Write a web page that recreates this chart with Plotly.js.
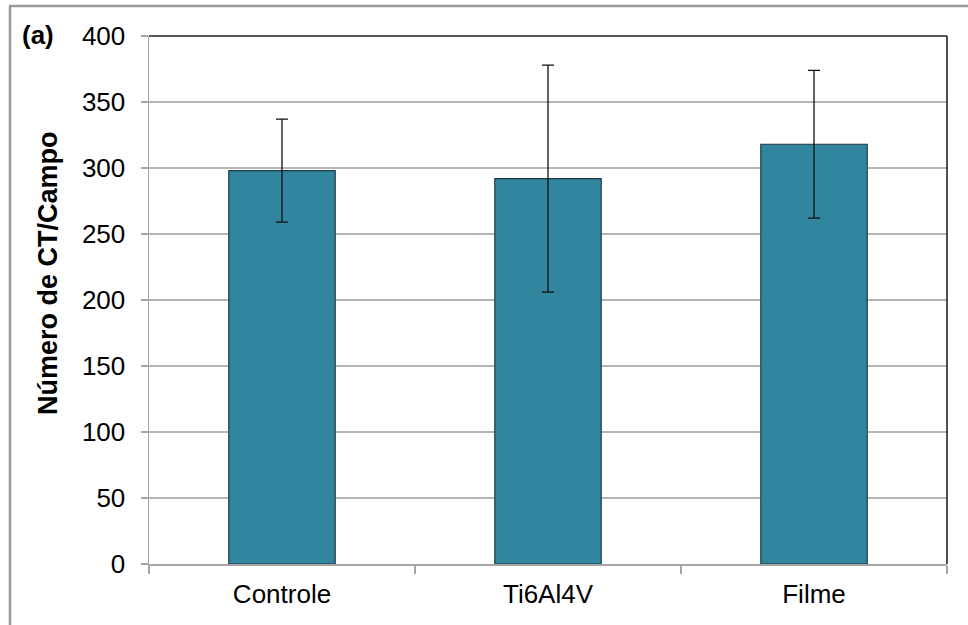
<!DOCTYPE html>
<html>
<head>
<meta charset="utf-8">
<script src="https://cdn.plot.ly/plotly-3.0.1.min.js"></script>
<style>
  html, body { margin: 0; padding: 0; background: #fff; }
  #chart { width: 968px; height: 625px; }
</style>
</head>
<body>
<div id="chart"></div>
<script>
const categories = ['Controle', 'Ti6Al4V', 'Filme'];
const values = [298, 292, 318];
const errors = [39, 86, 56];
const yTicks = [0, 50, 100, 150, 200, 250, 300, 350, 400];
const yTitle = 'Número de CT/Campo';
const panelLabel = '(a)';

const W = 968, H = 625;
const M = { l: 149, r: 21, t: 36, b: 61 };
const pw = W - M.l - M.r, ph = H - M.t - M.b;
const px = x => (x - M.l) / pw;
const py = y => (H - M.b - y) / ph;

const font = 'Liberation Sans, Arial, sans-serif';

const trace = {
  type: 'bar',
  x: categories,
  y: values,
  marker: { color: '#31859c', line: { color: '#1e3b45', width: 1.2 } },
  error_y: { type: 'data', array: errors, visible: true, color: '#111', thickness: 1.3, width: 6 },
  hoverinfo: 'skip'
};

const layout = {
  width: W, height: H,
  margin: M,
  paper_bgcolor: '#fff',
  plot_bgcolor: '#fff',
  showlegend: false,
  bargap: 0.6,
  font: { family: font, color: '#000', size: 26 },
  xaxis: {
    type: 'category',
    range: [-0.5, 2.5],
    showline: true, linecolor: '#a6a6a6', linewidth: 1.5,
    ticks: 'outside', tickson: 'boundaries', ticklen: 8, tickcolor: '#a6a6a6', tickwidth: 1.3,
    showgrid: false,
    tickfont: { family: font, size: 26, color: '#000' },
    ticklabelstandoff: 6
  },
  yaxis: {
    range: [0, 400],
    tickvals: yTicks,
    ticktext: yTicks.map(String),
    showline: true, linecolor: '#a6a6a6', linewidth: 1.5,
    ticks: 'outside', ticklen: 7, tickcolor: '#a6a6a6', tickwidth: 1.3,
    showgrid: true, gridcolor: '#b5b5b5', gridwidth: 1.3,
    zeroline: false,
    tickfont: { family: font, size: 26, color: '#000' },
    ticklabelstandoff: 10
  },
  annotations: [
    {
      text: '<b>' + panelLabel + '</b>', xref: 'paper', yref: 'paper',
      x: px(38), y: py(35), xanchor: 'center', yanchor: 'middle',
      showarrow: false, font: { family: font, size: 26, color: '#000' }
    },
    {
      text: '<b>' + yTitle + '</b>', xref: 'paper', yref: 'paper',
      x: px(48), y: py(273), xanchor: 'center', yanchor: 'middle', textangle: -90,
      showarrow: false, font: { family: font, size: 27, color: '#000' }
    }
  ],
  shapes: [
    { type: 'line', xref: 'paper', yref: 'paper', x0: 0, x1: 1, y0: 1, y1: 1, line: { color: '#222', width: 1.6 } },
    { type: 'line', xref: 'paper', yref: 'paper', x0: 1, x1: 1, y0: 0, y1: 1, line: { color: '#222', width: 1.6 } },
    { type: 'line', xref: 'paper', yref: 'paper', x0: px(10), x1: px(10), y0: py(6), y1: py(630), line: { color: '#999', width: 2.5 } },
    { type: 'line', xref: 'paper', yref: 'paper', x0: px(9), x1: px(975), y0: py(6), y1: py(6), line: { color: '#999', width: 2.5 } }
  ]
};

Plotly.newPlot('chart', [trace], layout, { displayModeBar: false, staticPlot: true });
</script>
</body>
</html>
